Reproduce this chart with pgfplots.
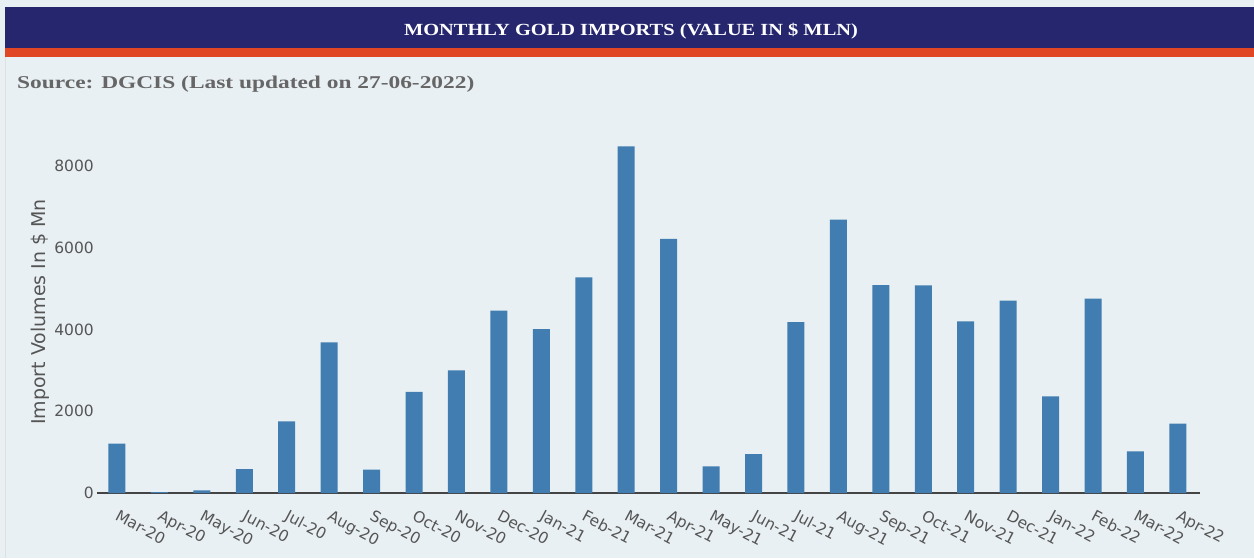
\documentclass[border=0pt]{standalone}
\usepackage{fontspec}
\setmainfont{DejaVu Sans}
\newfontfamily\titlefont[FakeStretch=1.2]{Liberation Serif}
\newfontfamily\srcfont[FakeStretch=1.3]{Liberation Serif}
\usepackage{pgfplots}
\pgfplotsset{compat=1.18}
\definecolor{bg}{HTML}{E9F0F3}
\definecolor{navy}{HTML}{25266E}
\definecolor{stripe}{HTML}{E04524}
\definecolor{barblue}{HTML}{417DB0}
\definecolor{txtgrey}{HTML}{666666}
\definecolor{ticktxt}{HTML}{555555}
\definecolor{axisline}{HTML}{444444}
\begin{document}
\begin{tikzpicture}
\useasboundingbox (0pt,0pt) rectangle (1254pt,558pt);
\fill[bg] (0pt,0pt) rectangle (1254pt,558pt);
\draw[black!12, line width=1pt] (5.5pt,0pt) -- (5.5pt,551pt);
\fill[navy] (5pt,510pt) rectangle (1254pt,551pt);
\fill[stripe] (5pt,501pt) rectangle (1254pt,510pt);
\node[anchor=base, white, inner sep=0pt, font=\titlefont\bfseries\fontsize{17}{19}\selectfont] at (631pt,522pt) {MONTHLY GOLD IMPORTS (VALUE IN \$ MLN)};
\node[anchor=base west, txtgrey, inner sep=0pt, font=\srcfont\bfseries\fontsize{18}{20}\selectfont] at (17pt,469pt) {Source: DGCIS (Last updated on 27-06-2022)};
\begin{axis}[
  at={(97pt,65pt)}, anchor=south west,
  scale only axis, width=1103pt, height=367.9pt,
  xmin=-0.47, xmax=25.52, ymin=0, ymax=9000,
  ybar, bar width=17pt,
  axis x line*=bottom, axis y line*=left,
  x axis line style={-, draw=axisline, line width=2pt},
  y axis line style={draw=none},
  major tick length=0pt,
  tick style={draw=none},
  xtick={0,...,25},
  xticklabels={Mar-20,Apr-20,May-20,Jun-20,Jul-20,Aug-20,Sep-20,Oct-20,Nov-20,Dec-20,Jan-21,Feb-21,Mar-21,Apr-21,May-21,Jun-21,Jul-21,Aug-21,Sep-21,Oct-21,Nov-21,Dec-21,Jan-22,Feb-22,Mar-22,Apr-22},
  ytick={0,2000,4000,6000,8000},
  scaled y ticks=false,
  /pgf/number format/1000 sep={},
  /pgf/number format/assume math mode=true,
  ticklabel style={font=\fontsize{15.5}{17}\selectfont, text=ticktxt},
  yticklabel style={inner sep=0pt, xshift=-3pt},
  xticklabel style={rotate=-28, anchor=north west, inner sep=0pt, xshift=10pt, yshift=-13pt},
  ylabel={Import Volumes In \$ Mn},
  ylabel style={font=\fontsize{19}{21}\selectfont, text=ticktxt, at={(axis description cs:-0.0517,0.492)}, anchor=center},
  clip=false,
]
\addplot[fill=barblue, draw=none] coordinates {
(0,1206) (1,20) (2,65) (3,587) (4,1752) (5,3684) (6,570) (7,2471) (8,3000) (9,4460)
(10,4012) (11,5275) (12,8480) (13,6214) (14,651) (15,954) (16,4183) (17,6686) (18,5088) (19,5080)
(20,4198) (21,4704) (22,2363) (23,4753) (24,1018) (25,1695)};
\end{axis}
\end{tikzpicture}
\end{document}
